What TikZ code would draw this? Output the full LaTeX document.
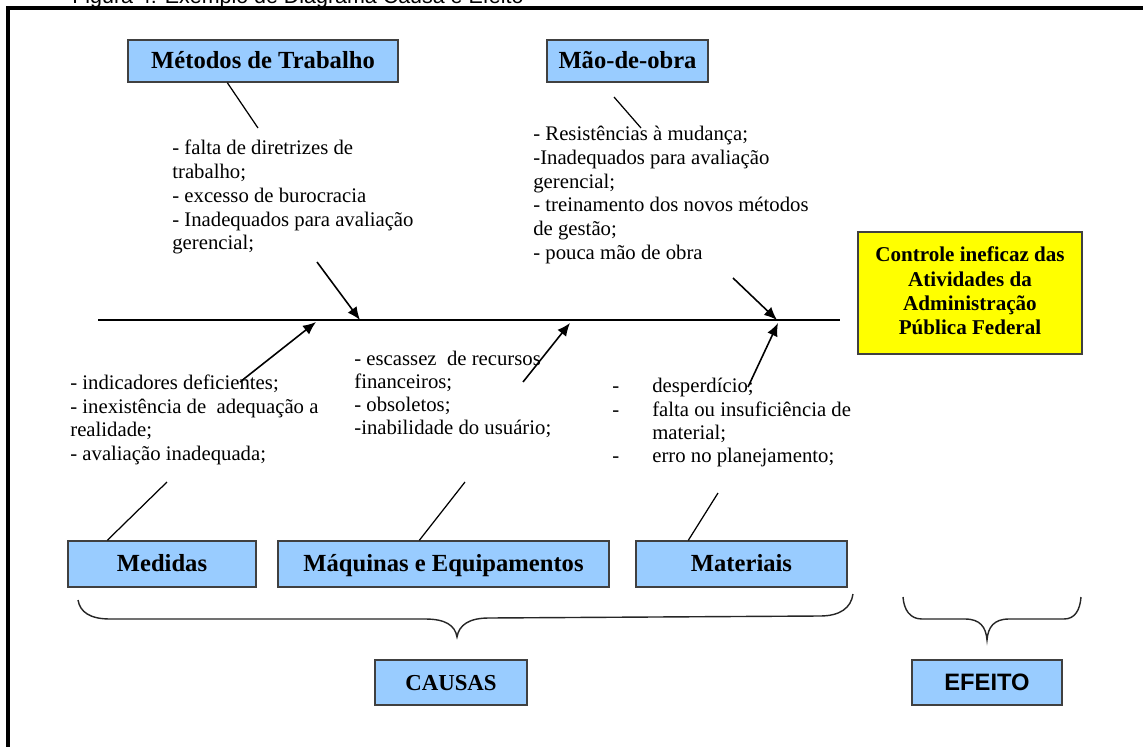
\documentclass[tikz,border=0pt]{standalone}
\usepackage{fontspec}
\setmainfont{Liberation Serif}
\newfontfamily\arialfont{Liberation Sans}
\usetikzlibrary{arrows.meta,shapes,calc,positioning}
\definecolor{caixaazul}{HTML}{99CCFF}
\definecolor{caixaamarela}{HTML}{FFFF00}
\tikzset{
  categoria/.style={draw=black!75, line width=0.8pt, fill=caixaazul, inner sep=0pt,
    font=\fontsize{14}{16}\selectfont\bfseries, minimum height=0.84cm, text height=12pt, text depth=3pt},
  lista/.style={align=left, anchor=north west, inner sep=0pt, font=\fontsize{11.8}{13.5}\selectfont},
  seta/.style={line width=0.9pt, -{Latex[length=2.6mm,width=2.2mm]}},
  haste/.style={line width=0.7pt},
  chave/.style={line width=0.8pt, black!85},
}
\begin{document}
\begin{tikzpicture}[x=0.02cm,y=-0.02cm]
\useasboundingbox (0,0) rectangle (1143,747);
\clip (0,0) rectangle (1143,747);
\fill[white] (0,0) rectangle (1143,747);
\node[anchor=base west, inner sep=0pt, font=\arialfont\fontsize{12.2}{14}\selectfont] (titulo) at (72,4) {Figura 4: Exemplo de Diagrama Causa e Efeito};
\draw[line width=2.3pt] (1160,8) -- (8,8) -- (8,760);

%% caixas das categorias
\node[categoria, minimum width=5.4cm] (metodos) at (263,61) {Métodos de Trabalho};
\node[categoria, minimum width=3.22cm] (maodeobra) at (627.5,61) {Mão-de-obra};
\node[categoria, minimum width=3.76cm, minimum height=0.92cm] (medidas) at (162,564) {Medidas};
\node[categoria, minimum width=6.62cm, minimum height=0.92cm] (maquinas) at (443.5,564) {Máquinas e Equipamentos};
\node[categoria, minimum width=4.22cm, minimum height=0.92cm] (materiais) at (741.5,564) {Materiais};
\node[categoria, minimum width=3.04cm, minimum height=0.9cm, font=\fontsize{13}{15}\selectfont\bfseries] (causas) at (451,682.5) {CAUSAS};
\node[categoria, minimum width=3cm, minimum height=0.9cm, font=\arialfont\fontsize{13.5}{15}\selectfont\bfseries] (efeito) at (987,682.5) {EFEITO};
\node[draw=black!75, line width=0.8pt, fill=caixaamarela, minimum width=4.48cm, minimum height=2.44cm,
  align=center, font=\fontsize{12}{13.7}\selectfont\bfseries] (problema) at (970,293)
  {Controle ineficaz das\\Atividades da\\Administração\\Pública Federal\vphantom{g}};

%% listas de causas
\node[lista] (txmetodos) at (172,140) {- falta de diretrizes de\\trabalho;\\- excesso de burocracia\\- Inadequados para avaliação\\gerencial;};
\node[lista] (txmao) at (533,126) {- Resistências à mudança;\\-Inadequados para avaliação\\gerencial;\\- treinamento dos novos métodos\\de gestão;\\- pouca mão de obra};
\node[lista, font=\fontsize{11.8}{13.3}\selectfont] (txmedidas) at (70,375) {- indicadores deficientes;\\- inexistência de\ \ adequação a\\realidade;\\- avaliação inadequada;};
\node[lista, font=\fontsize{11.8}{13.1}\selectfont] (txmaquinas) at (354,351) {- escassez\ \ de recursos\\financeiros;\\- obsoletos;\\-inabilidade do usuário;};
\node[lista, font=\fontsize{11.8}{13.3}\selectfont] (txmateriais) at (612,378) {\makebox[0.8cm][l]{-}desperdício;\\\makebox[0.8cm][l]{-}falta ou insuficiência de\\\hspace*{0.8cm}material;\\\makebox[0.8cm][l]{-}erro no planejamento;};

%% espinha
\coordinate (cauda) at (98,320);
\coordinate (cabeca) at (840,320);
\draw[line width=0.8pt] (cauda) -- (cabeca);

\coordinate (p1) at (360,320); \coordinate (q1) at (317,262);
\coordinate (p2) at (777,320); \coordinate (q2) at (733,278);
\coordinate (p3) at (316,322); \coordinate (q3) at (240,382);
\coordinate (p4) at (570,323); \coordinate (q4) at (523,382);
\coordinate (p5) at (778,323); \coordinate (q5) at (748,387);
\foreach \i in {1,...,5}{
  \draw[seta] (q\i) -- (p\i);
}

\coordinate (h1) at (258,128);
\coordinate (h2a) at (614,97); \coordinate (h2) at (641,128);
\coordinate (h3) at (167,482);
\coordinate (h4) at (465,482);
\coordinate (h5) at (718,493);
\draw[haste] ($(metodos.south west)+(100,0)$) -- (h1);
\draw[haste] (h2a) -- (h2);
\draw[haste] ($(medidas.north west)+(40,0)$) -- (h3);
\draw[haste] ($(maquinas.north west)+(142,0)$) -- (h4);
\draw[haste] ($(materiais.north west)+(53,0)$) -- (h5);

%% chaves
\draw[chave] (78,600) .. controls (80,612) and (90,619) .. (110,619) -- (425,619)
  .. controls (445,619) and (455,625) .. (457,637) .. controls (459,625) and (469,618) .. (489,618)
  -- (820,616) .. controls (840,616) and (851,608) .. (853,594);
\draw[chave] (903,597) .. controls (904,610) and (910,619) .. (922,619) -- (965,619)
  .. controls (980,619) and (986,627) .. (987,640) .. controls (988,627) and (994,619) .. (1009,619)
  -- (1064,619) .. controls (1075,619) and (1080,610) .. (1081,597);
\end{tikzpicture}
\end{document}
